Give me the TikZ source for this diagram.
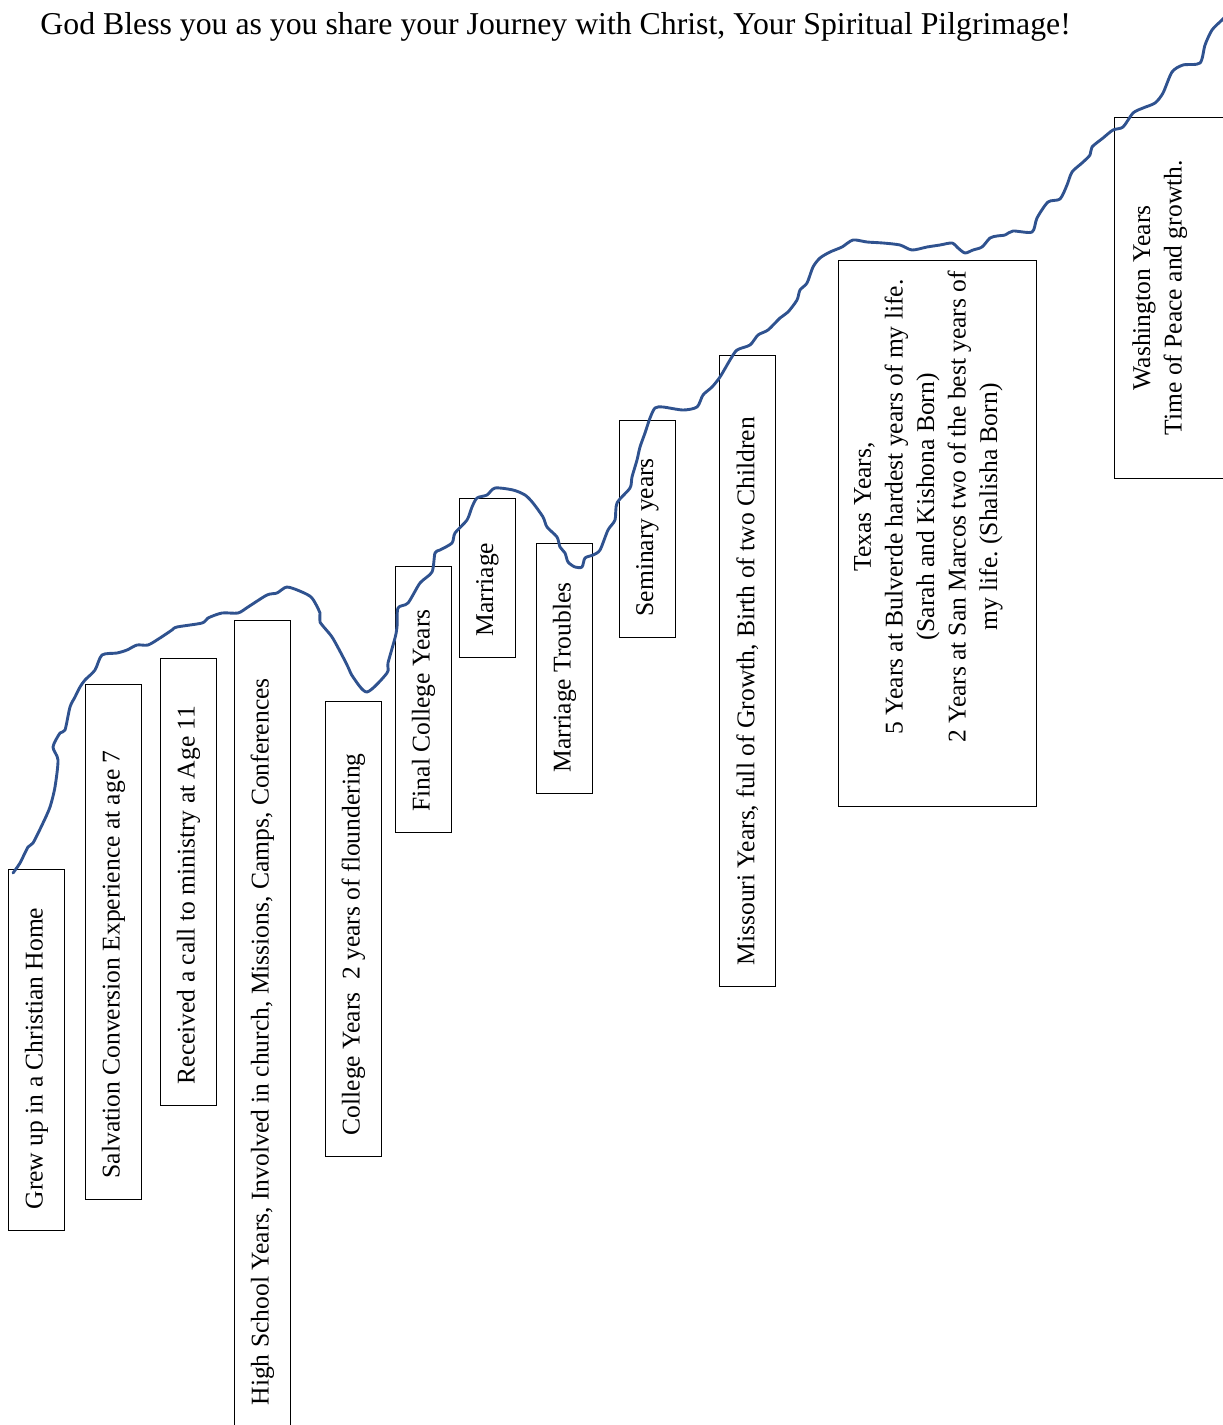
\documentclass[tikz,border=0pt]{standalone}
\usepackage{fontspec}
\setmainfont{Liberation Serif}
\frenchspacing
\definecolor{pathblue}{RGB}{47,82,143}
\newcommand{\stagetext}[2]{\makebox[#1][l]{#2}}
\tikzset{
	stage/.style={draw=black, line width=0.6pt, rotate=90, anchor=north west, inner xsep=9.45pt, inner ysep=0pt, minimum height=25pt, font=\fontsize{11.5}{13.8}\selectfont},
	era/.style={draw=black, line width=0.6pt, rotate=90, anchor=north west, inner xsep=5pt, inner ysep=7pt, font=\fontsize{11.5}{14.2}\selectfont},
	journey/.style={pathblue, line width=1.3pt, line cap=round, line join=round}
}
\begin{document}
\begin{tikzpicture}[x=0.45pt, y=-0.45pt]
		\useasboundingbox (0,0) rectangle (1223,1425);
		\node [anchor=base west, inner sep=0pt, font=\fontsize{14.3}{17}\selectfont] (title) at (40,35) {God Bless you as you share your Journey with Christ, Your Spiritual Pilgrimage!};
		\node [stage] (home) at (8,1231) {\stagetext{143.55pt}{Grew up in a Christian Home}};
		\node [stage] (salvation) at (85,1200) {\stagetext{212.85pt}{Salvation Conversion Experience at age 7}};
		\node [stage] (calling) at (160,1106) {\stagetext{182.25pt}{Received a call to ministry at Age 11}};
		\node [stage] (highschool) at (234,1427) {\stagetext{343.8pt}{High School Years, Involved in church, Missions, Camps, Conferences}};
		\node [stage] (college) at (325,1157) {\stagetext{185.85pt}{College Years\ \ 2 years of floundering}};
		\node [stage] (finalcollege) at (395,833) {\stagetext{100.8pt}{Final College Years}};
		\node [stage] (marriage) at (459,658) {\stagetext{52.65pt}{Marriage}};
		\node [stage] (troubles) at (536,794) {\stagetext{93.6pt}{Marriage Troubles}};
		\node [stage] (seminary) at (619,638) {\stagetext{78.75pt}{Seminary years}};
		\node [stage] (missouri) at (719,987) {\stagetext{265.05pt}{Missouri Years, full of Growth, Birth of two Children}};
		\node [era] (texas) at (838,807) {\hspace*{23.7pt}\parbox[c][75.1pt][t]{212pt}{\centering Texas Years,\\5 Years at Bulverde hardest years of my life.\\(Sarah and Kishona Born)\\2 Years at San Marcos two of the best years of\\my life. (Shalisha Born)}};
		\node [era, inner sep=8pt] (washington) at (1114,479) {\parbox[c][80pt][t]{146.45pt}{\centering Washington Years\\Time of Peace and growth.}};
		\draw [journey] plot [smooth, tension=0.45] coordinates {(13,873) (20,863) (28,847) (33,843) (43,823) (50,807) (55,787) (58,760) (53,747) (60,733) (65,730) (70,707) (75,697) (80,687) (85,680) (95,670) (102,655) (117,653) (127,650) (137,645) (148,645) (160,638) (172,630) (177,627) (202,623) (208,618) (222,613) (238,613) (248,607) (267,595) (277,593) (287,587) (302,592) (312,598) (320,613) (320,622) (332,637) (343,657) (348,667) (353,677) (367,692) (387,673) (388,663) (395,638) (397,627) (398,608) (408,603) (420,583) (432,572) (435,553) (440,550) (452,543) (455,533) (467,520) (472,507) (477,498) (487,495) (495,488) (513,490) (525,495) (533,503) (543,517) (547,527) (557,537) (560,547) (565,553) (568,562) (575,567) (582,567) (585,558) (593,555) (600,550) (608,530) (615,520) (617,503) (630,488) (632,477) (637,460) (640,447) (645,433) (650,418) (655,408) (663,407) (683,410) (697,407) (703,395) (712,387) (720,377) (730,360) (737,350) (750,345) (758,335) (768,330) (780,318) (788,312) (797,300) (800,290) (807,283) (813,267) (820,258) (830,252) (842,247) (853,240) (867,242) (883,243) (900,245) (912,250) (927,247) (940,245) (952,243) (958,248) (965,253) (973,250) (982,247) (990,238) (997,236) (1005,235) (1013,231) (1032,232) (1037,218) (1048,202) (1060,199) (1067,185) (1072,172) (1082,163) (1090,155) (1092,147) (1103,138) (1113,130) (1123,127) (1133,113) (1143,108) (1155,103) (1163,93) (1172,72) (1183,65) (1200,63) (1205,45) (1212,30) (1222,20) (1230,12)};
\end{tikzpicture}
\end{document}
